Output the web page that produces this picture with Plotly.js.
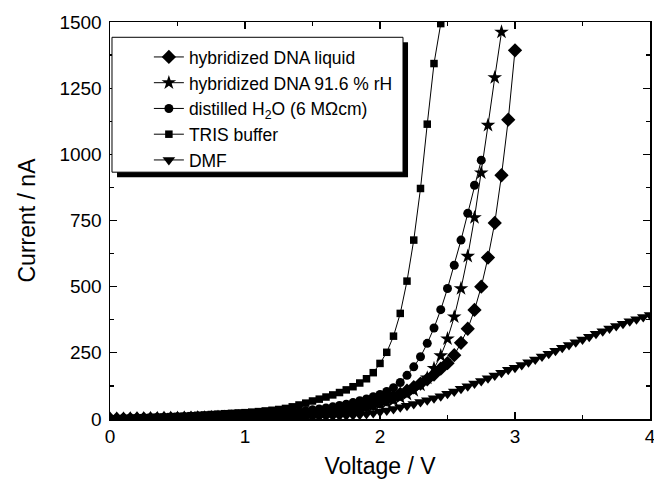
<!DOCTYPE html>
<html>
<head>
<meta charset="utf-8">
<script src="https://cdn.plot.ly/plotly-3.0.1.min.js"></script>
<style>html,body{margin:0;padding:0;background:#fff;}#chart{width:654px;height:480px;}</style>
</head>
<body>
<div id="chart"></div>
<script>
// Voltage grid (V), shared by all series
const voltage = [0,0.05,0.1,0.15,0.2,0.25,0.3,0.35,0.4,0.45,0.5,0.55,0.6,0.65,0.7,0.75,0.8,0.85,0.9,0.95,
  1,1.05,1.1,1.15,1.2,1.25,1.3,1.35,1.4,1.45,1.5,1.55,1.6,1.65,1.7,1.75,1.8,1.85,1.9,1.95,
  2,2.05,2.1,2.15,2.2,2.25,2.3,2.35,2.4,2.45,2.5,2.55,2.6,2.65,2.7,2.75,2.8,2.85,2.9,2.95,
  3,3.05,3.1,3.15,3.2,3.25,3.3,3.35,3.4,3.45,3.5,3.55,3.6,3.65,3.7,3.75,3.8,3.85,3.9,3.95,4];

// Current (nA)
const dnaLiquid = [0,0.2,0.4,0.6,0.9,1.1,1.4,1.7,2.0,2.3,2.6,3.0,3.4,3.8,4.3,4.8,5.3,5.9,6.5,7.2,
  7.9,8.7,9.5,10.4,11.4,12.5,13.7,15,16.5,18,20,22.5,25,28,31,35,39,44,50,57,
  65,74,84,95,107,120,134,150,168,190,211,241,288,341,412,500,610,741,921,1131,1393];
const dnaRH = [0,0.3,0.6,0.9,1.2,1.5,1.9,2.2,2.6,3.0,3.4,3.8,4.3,4.8,5.3,5.9,6.5,7.1,7.8,8.5,
  9.2,10,11,12,13,14,15.5,17,18.5,20,22,24,26,28,31,34,37,41,45,50,
  56,63,71,81,93,108,128,155,191,239,303,386,493,615,761,930,1110,1290,1462];
const water = [0,0.4,0.7,1.1,1.5,1.9,2.3,2.8,3.3,3.9,4.5,5.1,5.8,6.5,7.3,8.1,9,10,11,12,
  13.2,14.5,16,17.5,19,21,23,25.5,28,31,34.5,38,42,46,51,56,62,69,76,84,
  93,104,118,138,165,197,235,286,344,413,493,581,676,777,883,978];
const tris = [0,1,2,3,4,5,6,7,8,9,10,11,12.5,14,15.5,17,18.5,20,21.5,23,
  24,26,28,30.5,33,36,40,46,53,60,68,75,83,91,100,110,122,136,152,175,
  210,252,313,399,521,676,871,1114,1343,1494];
const dmf = [0,0.3,0.5,0.7,0.9,1.1,1.3,1.5,1.7,1.9,2.1,2.3,2.5,2.7,2.9,3.1,3.3,3.5,3.7,3.9,
  4.1,4.3,4.6,4.9,5.2,5.5,5.9,6.3,6.8,7.3,7.9,8.6,9.4,10.3,11.3,12.5,14,16,19,23,
  27,32,38,44,50,57,64,71,78,86,95,104,114,124,134,144,154,164,175,186,
  194,204,214,225,236,247,258,269,280,290,300,311,322,332,342,351,360,369,377,385,393];

const names = ['hybridized DNA liquid','hybridized DNA 91.6 % rH','distilled H<sub>2</sub>O (6 MΩcm)','TRIS buffer','DMF'];
const xTicks = [0,1,2,3,4];
const yTicks = [0,250,500,750,1000,1250,1500];

const series = [dnaLiquid, dnaRH, water, tris, dmf];
const symbols = ['diamond','star','circle','square','triangle-down'];
const sizes = [11,11,9,7.5,11];

const traces = series.map((s,i)=>({
  x: voltage.slice(0, s.length),
  y: s,
  name: names[i],
  type: 'scatter',
  mode: 'lines+markers',
  line: {color:'#000', width:1},
  marker: {symbol: symbols[i], size: sizes[i], color:'#000', line:{width:0}}
}));

const fontFam = 'Liberation Sans, Arial, sans-serif';
const axisCommon = {
  showline:true, linecolor:'#000', linewidth:1.5, mirror:'allticks',
  ticks:'inside', ticklen:7, tickwidth:1.3, tickcolor:'#000',
  showgrid:false, zeroline:false, ticklabeloverflow:'allow',
  tickfont:{family:fontFam, size:19, color:'#000'}
};

const layout = {
  width:654, height:480,
  margin:{l:110, r:4, t:22, b:61},
  paper_bgcolor:'#fff', plot_bgcolor:'#fff',
  font:{family:fontFam, color:'#000'},
  showlegend:true,
  xaxis: Object.assign({}, axisCommon, {
    range:[0,4], tickvals:xTicks, ticktext:xTicks.map(String),
    minor:{dtick:0.5, ticks:'inside', ticklen:4, tickwidth:1.3, tickcolor:'#000', showgrid:false},
    title:{text:'Voltage / V', font:{family:fontFam, size:23, color:'#000'}, standoff:11}
  }),
  yaxis: Object.assign({}, axisCommon, {
    range:[0,1500], tickvals:yTicks, ticktext:yTicks.map(String), ticklabelstandoff:3,
    minor:{dtick:125, ticks:'inside', ticklen:4, tickwidth:1.3, tickcolor:'#000', showgrid:false},
    title:{text:'Current / nA', font:{family:fontFam, size:23, color:'#000'}, standoff:17}
  }),
  legend:{
    x:0.072, y:0.957, xanchor:'left', yanchor:'top',
    bgcolor:'rgba(0,0,0,0)', borderwidth:0,
    font:{family:fontFam, size:17.5, color:'#000'},
    tracegroupgap:0
  },
  shapes:[
    {type:'rect', xref:'paper', yref:'paper', x0:0.013, x1:0.5519, y0:0.609, y1:0.949,
     fillcolor:'#000', line:{width:0}, layer:'above'},
    {type:'rect', xref:'paper', yref:'paper', x0:0.0037, x1:0.5426, y0:0.6217, y1:0.9615,
     fillcolor:'#fff', line:{color:'#000', width:1}, layer:'above'}
  ]
};

Plotly.newPlot('chart', traces, layout, {staticPlot:true, displayModeBar:false});
</script>
</body>
</html>
